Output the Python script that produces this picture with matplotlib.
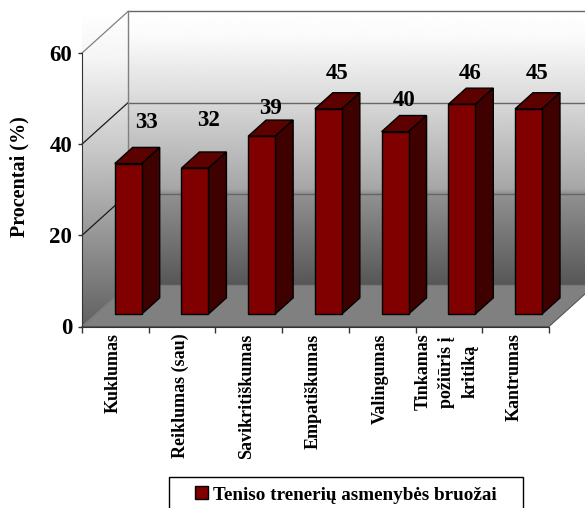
import numpy as np
from matplotlib import pyplot as plt
from matplotlib.patches import Polygon, Rectangle

categories = ["Kuklumas", "Reiklumas (sau)", "Savikritiškumas", "Empatiškumas",
              "Valingumas", "Tinkamas\npožiūris į\nkritiką", "Kantrumas"]
values = [33, 32, 39, 45, 40, 46, 45]
y_ticks = [0, 20, 40, 60]
series_name = "Teniso trenerių asmenybės bruožai"
y_label = "Procentai (%)"

# label nudges in data units, the labels don't sit at a fixed distance above the bars
label_dx = [0.28, 0.20, 0.13, 0.13, 0.13, 0.13, 0.13]
label_dy = [9.0, 10.5, 6.2, 7.7, 6.8, 6.8, 7.7]

BAR_RED = "#800000"
BAR_TOP = "#5c0000"
BAR_SIDE = "#3f0000"

# depth of the fake 3d box, in data units
DEPTH_X = 0.69
DEPTH_Y = 9.11
BAR_WIDTH = 0.405
BAR_START = 0.28
BAR_DEPTH = 0.39


def project(x, y, d):
    return x + DEPTH_X * d, y + DEPTH_Y * d


plt.rcParams["font.family"] = ["Liberation Serif", "DejaVu Serif"]
plt.rcParams["font.weight"] = "bold"

fig = plt.figure(figsize=(5.85, 5.08), dpi=100)
ax = fig.add_axes([82 / 585, (508 - 326.5) / 508, (549 - 82) / 585, (326.5 - 53) / 508])
n = len(categories)

# walls: vertical white to grey gradient, the back wall has a small step at the 20 line
ramp = np.linspace(0, 1, 512)
back_shade = np.interp(ramp, [0, 0.1, 0.33, 0.65, 0.665, 1], [1.0, 0.98, 0.85, 0.65, 0.57, 0.34])[:, None]
side_shade = np.interp(ramp, [0, 0.15, 0.45, 1], [1.0, 0.96, 0.78, 0.38])[:, None]
top_y = project(0, y_ticks[-1], 1)[1]
back_bottom = project(0, 0, 1)[1]

back = ax.imshow(back_shade, cmap="gray", vmin=0, vmax=1, aspect="auto", zorder=0,
                 extent=[DEPTH_X, n + DEPTH_X, back_bottom, top_y], clip_on=False)
wall_corners = [(0, 0), (0, y_ticks[-1]), project(0, y_ticks[-1], 1), project(0, 0, 1)]
side = ax.imshow(side_shade, cmap="gray", vmin=0, vmax=1, aspect="auto", zorder=0.5,
                 extent=[0, DEPTH_X, 0, top_y], clip_on=False)
side.set_clip_path(Polygon(wall_corners, transform=ax.transData))

floor = [(0, 0), (n, 0), project(n, 0, 1), project(0, 0, 1)]
ax.add_patch(Polygon(floor, facecolor="#808080", edgecolor="#555555", lw=0.8, zorder=1, clip_on=False))

# gridlines on back and side wall
for tick in y_ticks:
    color = "#808080" if tick in (0, y_ticks[-1]) else "#1a1a1a"
    x0, y0 = project(0, tick, 1)
    x1, y1 = project(n, tick, 1)
    ax.plot([0, x0], [tick, y0], color=color, lw=0.9, zorder=1.5, clip_on=False)
    ax.plot([x0, x1], [y0, y1], color="#666666" if tick else "#777777", lw=1, zorder=1.5, clip_on=False)
ax.plot([DEPTH_X, DEPTH_X], [back_bottom, top_y], color="#808080", lw=1, zorder=1.5, clip_on=False)

# bars: the front face comes from ax.bar, top and side are added by hand
x_pos = np.arange(n) + 0.5 + DEPTH_X * BAR_START
base = DEPTH_Y * 0.30
bars = ax.bar(x_pos, values, BAR_WIDTH, bottom=base, color=BAR_RED, edgecolor="black", lw=1,
              zorder=3, label=series_name, clip_on=False)

for x, value, dx, dy in zip(x_pos, values, label_dx, label_dy):
    left = x - BAR_WIDTH / 2
    right = x + BAR_WIDTH / 2
    top = base + value
    step = (DEPTH_X * BAR_DEPTH, DEPTH_Y * BAR_DEPTH)
    ax.add_patch(Polygon([(left, top), (right, top), (right + step[0], top + step[1]), (left + step[0], top + step[1])],
                         facecolor=BAR_TOP, edgecolor="black", lw=1, zorder=2.5, clip_on=False))
    ax.add_patch(Polygon([(right, base), (right + step[0], base + step[1]), (right + step[0], top + step[1]), (right, top)],
                         facecolor=BAR_SIDE, edgecolor="black", lw=1, zorder=2.5, clip_on=False))
    ax.text(x + dx, top + dy, str(value), ha="center", va="center", fontsize=16.5, zorder=4)

ax.set_xlim(0, n)
ax.set_ylim(0, y_ticks[-1])
ax.set_yticks(y_ticks)
ax.set_xticks(np.arange(n + 1))
ax.set_xticklabels([])
ax.tick_params(axis="y", labelsize=16.5, length=3, width=1, pad=4, color="#333333")
ax.tick_params(axis="x", length=4, width=1, color="#333333")
ax.patch.set_visible(False)
for name in ("top", "right"):
    ax.spines[name].set_visible(False)
for name in ("left", "bottom"):
    ax.spines[name].set_color("#333333")
    ax.spines[name].set_zorder(2)

for i, name in enumerate(categories):
    ax.text(i + 0.47, -1.5, name, rotation=90, ha="center", va="top", ma="center",
            fontsize=13, linespacing=1.5, clip_on=False)

fig.text(19 / 585, 1 - 177 / 508, y_label, rotation=90, ha="center", va="center", fontsize=14.5)

# legend box runs off the bottom of the picture, so it is drawn apart from the legend
fig.add_artist(Rectangle((169 / 585, -0.02), 354 / 585, 1 - 477 / 508 + 0.02, transform=fig.transFigure,
                         fill=False, edgecolor="black", lw=1))
fig.legend(handles=[bars], labels=[series_name], loc="center left", fontsize=13.8,
           bbox_to_anchor=(195 / 585, 1 - 495 / 508), frameon=False, handlelength=0.68,
           handleheight=0.63, handletextpad=0.26, borderpad=0, borderaxespad=0)

fig.savefig("out.png", dpi=100)
plt.close(fig)
